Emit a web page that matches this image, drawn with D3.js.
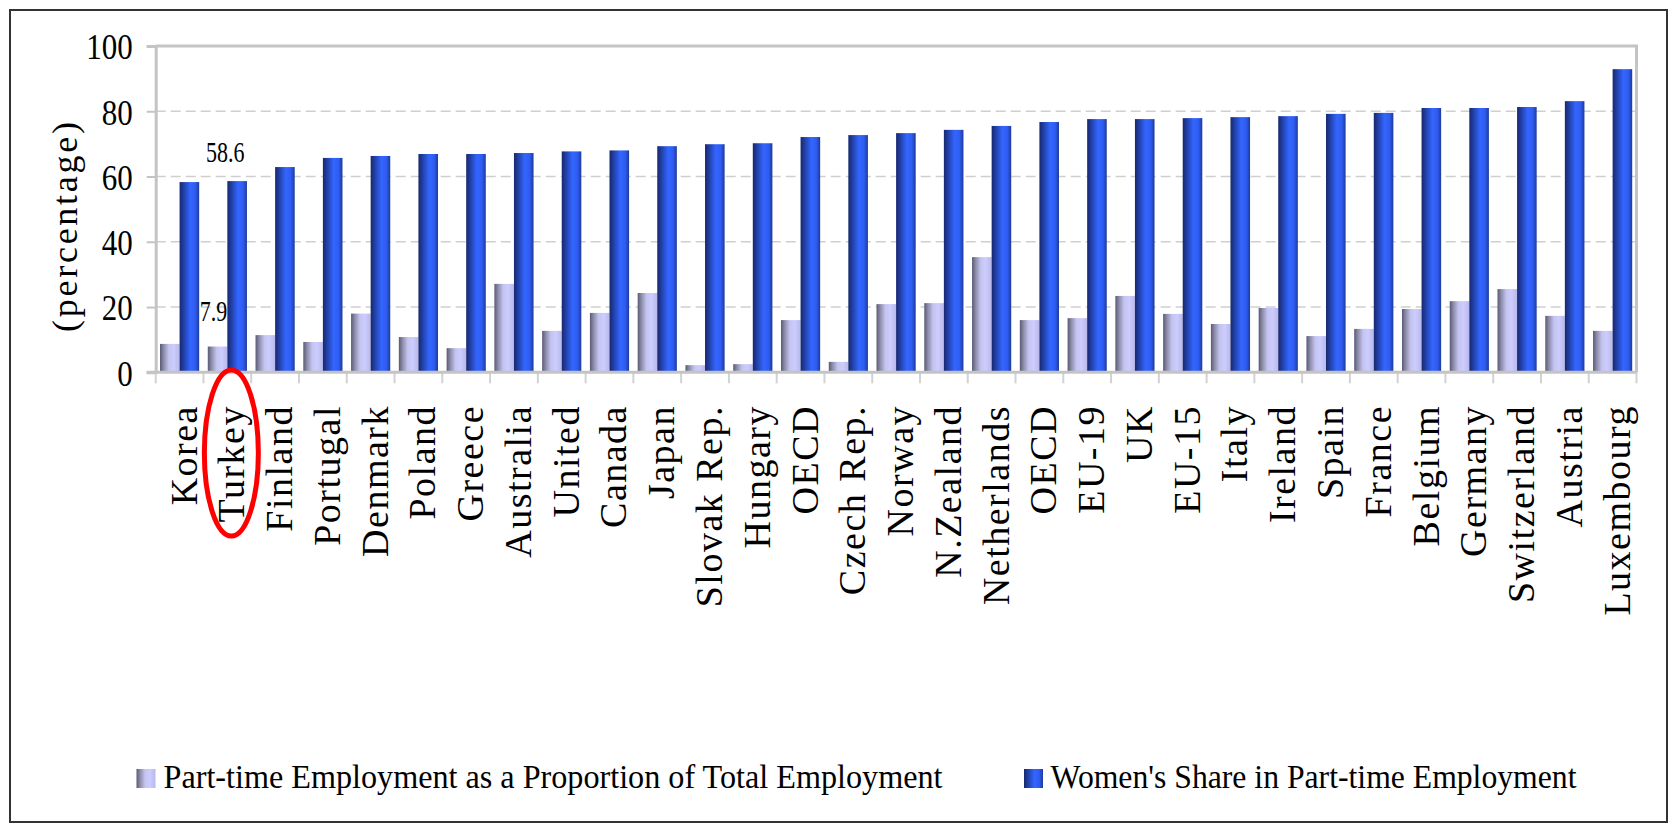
<!DOCTYPE html>
<html>
<head>
<meta charset="utf-8">
<script src="https://cdn.jsdelivr.net/npm/d3@7/dist/d3.min.js"></script>
<style>
  html, body { margin: 0; padding: 0; background: #fff; }
  svg { display: block; }
</style>
</head>
<body>
<script>
const categories = ["Korea","Turkey","Finland","Portugal","Denmark","Poland","Greece","Australia","United","Canada","Japan","Slovak Rep.","Hungary","OECD","Czech Rep.","Norway","N.Zealand","Netherlands","OECD","EU-19","UK","EU-15","Italy","Ireland","Spain","France","Belgium","Germany","Switzerland","Austria","Luxembourg"];
const partTimeShare = [8.7,7.9,11.4,9.3,18.0,10.8,7.4,27.1,12.7,18.2,24.3,2.2,2.5,16.0,3.2,20.9,21.2,35.3,16.0,16.6,23.4,17.9,14.8,19.7,11.1,13.3,19.4,21.8,25.5,17.3,12.7];
const womenShare = [58.3,58.6,62.9,65.7,66.3,66.9,66.9,67.2,67.7,68.0,69.3,69.9,70.2,72.1,72.7,73.3,74.3,75.5,76.7,77.6,77.6,77.9,78.2,78.5,79.2,79.5,81.0,81.0,81.3,83.1,92.9];
const seriesNames = ["Part-time Employment as a Proportion of Total Employment","Women's Share in Part-time Employment"];
const yTicks = [0,20,40,60,80,100];
const highlightedIndex = 1; // Turkey

const FONT = "'Liberation Serif', 'Times New Roman', serif";
const W = 1673, H = 828;
const plot = {left: 155.7, right: 1636.5, top: 46, bottom: 372.3};

const svg = d3.select("body").append("svg").attr("width", W).attr("height", H)
  .attr("font-family", FONT);
svg.append("rect").attr("width", W).attr("height", H).attr("fill", "#fff");

const defs = svg.append("defs");
function grad(id, stops) {
  const g = defs.append("linearGradient").attr("id", id).attr("x1", 0).attr("x2", 1).attr("y1", 0).attr("y2", 0);
  stops.forEach(s => g.append("stop").attr("offset", s[0]).attr("stop-color", s[1]));
}
grad("gLight", [["0%","#5a5a74"],["18%","#8a8aa8"],["45%","#c4c4f0"],["70%","#ccccff"],["100%","#b8b8ea"]]);
grad("gBlue", [["0%","#17286e"],["22%","#2240a8"],["55%","#3366ff"],["80%","#2f5cf2"],["100%","#1d3a9a"]]);

// outer border
svg.append("rect").attr("x", 10).attr("y", 10).attr("width", 1657).attr("height", 812)
  .attr("fill", "none").attr("stroke", "#333").attr("stroke-width", 2);

const idx = d3.range(categories.length);
const x0 = d3.scaleBand().domain(idx).range([plot.left, plot.right]).paddingInner(0.18).paddingOuter(0.09);
const x1 = d3.scaleBand().domain(["pt","w"]).range([0, x0.bandwidth()]);
const y = d3.scaleLinear().domain([0, 100]).range([plot.bottom, plot.top]);

// gridlines
svg.append("g").selectAll("line").data(yTicks.filter(d => d > 0 && d < 100)).join("line")
  .attr("x1", plot.left).attr("x2", plot.right).attr("y1", d => y(d)).attr("y2", d => y(d))
  .attr("stroke", "#cfcfcf").attr("stroke-width", 1.5).attr("stroke-dasharray", "10,5");

// plot frame (top & right)
svg.append("path")
  .attr("d", `M${plot.left},${plot.top}H${plot.right}V${plot.bottom}`)
  .attr("fill", "none").attr("stroke", "#c4c4c4").attr("stroke-width", 3);

// bars
const groups = svg.append("g").selectAll("g").data(idx).join("g")
  .attr("transform", i => `translate(${x0(i)},0)`);
groups.append("rect")
  .attr("x", x1("pt")).attr("width", x1.bandwidth())
  .attr("y", i => y(partTimeShare[i])).attr("height", i => y(0) - y(partTimeShare[i]))
  .attr("fill", "url(#gLight)");
groups.append("rect")
  .attr("x", x1("w")).attr("width", x1.bandwidth())
  .attr("y", i => y(womenShare[i])).attr("height", i => y(0) - y(womenShare[i]))
  .attr("fill", "url(#gBlue)");

// y axis
const yAxis = d3.axisLeft(y).tickValues(yTicks).tickSize(9).tickPadding(14).tickFormat(d3.format("d"));
const ya = svg.append("g").attr("transform", `translate(${plot.left},0)`).call(yAxis);
ya.attr("font-family", FONT);
ya.select(".domain").attr("stroke", "#c4c4c4").attr("stroke-width", 3);
ya.selectAll(".tick line").attr("stroke", "#c4c4c4").attr("stroke-width", 2);
ya.selectAll(".tick text").attr("font-size", 31).attr("font-family", FONT).attr("fill", "#000")
  .attr("dy", "0.36em").attr("transform", "scale(1,1.16)");

// x axis baseline & ticks at band boundaries
const step = x0.step();
const gap = step - x0.bandwidth();
const boundaries = idx.map(i => x0(i) - gap / 2).concat([plot.right]);
svg.append("g").selectAll("line").data(boundaries).join("line")
  .attr("x1", d => d).attr("x2", d => d).attr("y1", plot.bottom).attr("y2", plot.bottom + 11)
  .attr("stroke", "#d2d2d2").attr("stroke-width", 2);
svg.append("line").attr("x1", plot.left - 9).attr("x2", plot.right).attr("y1", plot.bottom).attr("y2", plot.bottom)
  .attr("stroke", "#c4c4c4").attr("stroke-width", 3);

// category labels
svg.append("g").selectAll("text").data(idx).join("text")
  .attr("transform", i => `translate(${x0(i) + x0.bandwidth() / 2 + 17},405) rotate(-90)`)
  .attr("text-anchor", "end").attr("font-size", 38).attr("font-family", FONT)
  .attr("letter-spacing", 1.5)
  .text(i => categories[i]);

// y title
svg.append("text").attr("transform", "translate(77,227) rotate(-90)")
  .attr("text-anchor", "middle").attr("font-size", 36).attr("font-family", FONT)
  .attr("textLength", 210).attr("lengthAdjust", "spacing")
  .text("(percentage)");

// data labels for highlighted country
const hi = highlightedIndex;
svg.append("text")
  .attr("transform", `translate(${x0(hi) + x1("w") + x1.bandwidth() / 2 - 12},${y(womenShare[hi]) - 19}) scale(1,1.35)`)
  .attr("text-anchor", "middle").attr("font-size", 22).attr("font-family", FONT)
  .text(womenShare[hi].toFixed(1));
svg.append("text")
  .attr("transform", `translate(${x0(hi) + x1("pt") + x1.bandwidth() / 2 - 4},${y(partTimeShare[hi]) - 26}) scale(1,1.35)`)
  .attr("text-anchor", "middle").attr("font-size", 22).attr("font-family", FONT)
  .text(partTimeShare[hi].toFixed(1));

// red ellipse annotation
svg.append("ellipse")
  .attr("cx", x0(hi) + x0.bandwidth() / 2 + 4).attr("cy", 453)
  .attr("rx", 27).attr("ry", 83)
  .attr("fill", "none").attr("stroke", "#ff0000").attr("stroke-width", 5);

// legend
const legendItems = [
  {name: seriesNames[0], fill: "url(#gLight)", sx: 136.5, tx: 163.5, len: 779},
  {name: seriesNames[1], fill: "url(#gBlue)", sx: 1024, tx: 1050.5, len: 526}
];
const lg = svg.append("g").selectAll("g").data(legendItems).join("g");
lg.append("rect").attr("x", d => d.sx).attr("y", 769).attr("width", 19).attr("height", 19).attr("fill", d => d.fill);
lg.append("text").attr("x", d => d.tx).attr("y", 788).attr("font-size", 34).attr("font-family", FONT)
  .attr("textLength", d => d.len).attr("lengthAdjust", "spacingAndGlyphs")
  .text(d => d.name);
</script>
</body>
</html>
